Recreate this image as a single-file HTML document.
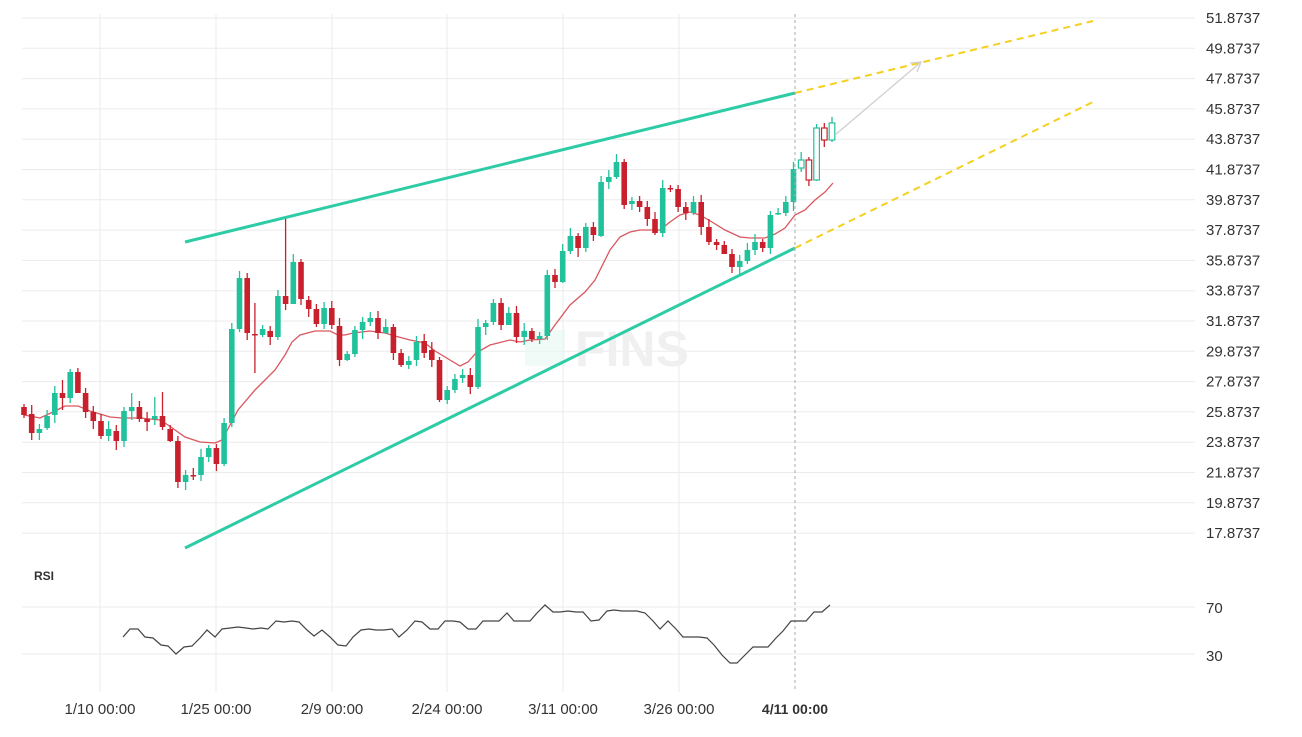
<!DOCTYPE html>
<html><head><meta charset="utf-8"><style>
html,body{margin:0;padding:0;background:#fff;}
svg{display:block;font-family:"Liberation Sans","DejaVu Sans",sans-serif;}
</style></head><body>
<svg id="s" width="1302" height="737" viewBox="0 0 1302 737" xmlns="http://www.w3.org/2000/svg">
<g id="grid" stroke="#ebebeb" stroke-width="1"></g>
<text x="575" y="366" font-size="50" font-weight="bold" fill="#f0f0f0">FINS</text>
<rect x="525" y="330" width="40" height="36" fill="#e6f6f1" opacity="0.6"/>
<g id="ma"></g>
<g id="candles"></g>
<line x1="185" y1="242" x2="795" y2="93" stroke="#2dcba6" stroke-width="3"/>
<line x1="185" y1="548" x2="795" y2="248" stroke="#2dcba6" stroke-width="3"/>
<line x1="795" y1="93" x2="1093" y2="21" stroke="#f5d020" stroke-width="2" stroke-dasharray="7,5"/>
<line x1="795" y1="248" x2="1095" y2="101" stroke="#f5d020" stroke-width="2" stroke-dasharray="7,5"/>
<line x1="835" y1="135" x2="921" y2="62" stroke="#cfcfcf" stroke-width="1.3"/>
<polyline points="910,63 921,62 917,72" fill="none" stroke="#cfcfcf" stroke-width="1.3"/>
<line x1="795" y1="14" x2="795" y2="692" stroke="#aaa" stroke-width="1" stroke-dasharray="3,3"/>
<text x="34" y="580" font-size="12" font-weight="bold" fill="#333">RSI</text>
<polyline id="rsi" fill="none" stroke="#444" stroke-width="1.2"/>
<g id="lbl" font-size="15" fill="#333"></g>
</svg>
<script>
(function(){
var ns="http://www.w3.org/2000/svg";
function el(p,t,a){var e=document.createElementNS(ns,t);for(var k in a)e.setAttribute(k,a[k]);p.appendChild(e);return e;}
var g=document.getElementById('grid'),L=document.getElementById('lbl'),t;
for(var i=0;i<18;i++){var yy=18+i*30.3;el(g,'line',{x1:22,x2:1195,y1:yy,y2:yy});
t=el(L,'text',{x:1206,y:yy+5});t.textContent=(51.8737-2*i).toFixed(4);}
el(g,'line',{x1:22,x2:1195,y1:607,y2:607});el(g,'line',{x1:22,x2:1195,y1:654,y2:654});
t=el(L,'text',{x:1206,y:613});t.textContent='70';t=el(L,'text',{x:1206,y:661});t.textContent='30';
var dx=[100,216,332,447,563,679],dl=['1/10 00:00','1/25 00:00','2/9 00:00','2/24 00:00','3/11 00:00','3/26 00:00'];
dx.forEach(function(x,i){el(g,'line',{x1:x,x2:x,y1:14,y2:692});var tt=el(L,'text',{x:x,y:714,'text-anchor':'middle'});tt.textContent=dl[i];});
t=el(L,'text',{x:795,y:714,'text-anchor':'middle','font-weight':'bold','font-size':'14'});t.textContent='4/11 00:00';
var c=[[407,415],[414,433],[433,429],[428,416],[415,393],[393,398],[398,372],[372,393],[393,412],[412,421],[421,436],[436,429],[431,441],[441,411],[411,407],[407,419],[419,422],[419,416],[416,427],[429,441],[441,482],[482,475],[475,476],[475,457],[457,448],[448,464],[464,423],[423,329],[329,278],[278,333],[334,335],[335,329],[331,337],[337,296],[296,304],[304,262],[262,299],[300,309],[309,324],[324,308],[308,325],[326,360],[360,354],[354,330],[330,322],[322,318],[318,333],[333,327],[327,353],[353,365],[365,361],[360,342],[341,353],[350,360],[360,400],[400,390],[390,379],[378,375],[375,387],[387,327],[327,323],[322,303],[303,325],[325,313],[313,337],[337,331],[331,339],[339,336],[336,275],[275,282],[282,251],[251,236],[236,248],[248,227],[227,235],[236,182],[182,177],[177,162],[162,205],[204,201],[201,207],[207,219],[219,233],[233,188],[188,189],[189,207],[207,213],[213,202],[202,227],[227,242],[242,245],[245,254],[254,267],[267,261],[261,250],[250,242],[242,248],[248,215],[214,213],[213,202],[202,169],[168,160],[160,180],[180,128],[128,140],[140,123]];
var wk=[[30,405,440],[61,380,410],[115,425,450],[130,393,420],[153,397,425],[161,392,430],[284,218,310],[253,303,373],[299,242,320],[614,137,180],[668,170,200],[176,436,488],[184,470,490],[246,273,340]];
var C=document.getElementById('candles');
var n=c.length;
for(var i=0;i<n;i++){var cx=24+i*(808/(n-1));cx=Math.round(cx*10)/10;var o=c[i][0],cl=c[i][1];
var up=cl<o;var col=up?'#21c19c':'#c8202c';var bt=Math.min(o,cl),bb=Math.max(o,cl);
var hi=bt-3-((i*7)%6),lo=bb+3+((i*3)%7)-((i*5)%4);
for(var j=0;j<wk.length;j++){if(Math.abs(wk[j][0]-cx)<2){hi=wk[j][1];lo=wk[j][2];}}
el(C,'line',{x1:cx,x2:cx,y1:hi,y2:lo,stroke:col,'stroke-width':1.3});
var hollow=i>=n-5;
el(C,'rect',{x:cx-2.8,y:bt,width:5.6,height:Math.max(bb-bt,1.5),fill:hollow?'#fff':col,stroke:hollow?col:'none','stroke-width':1.2});}
var ma="24,415 40,418 53,412 65,406 78,406 90,411 110,417 122,418 140,418 160,420 168,425 185,437 200,442 215,443 222,440 230,425 238,410 255,390 262,383 275,370 285,355 292,342 300,335 315,331 330,331 338,335 345,335 353,333 370,331 385,333 395,336 410,340 425,343 435,351 450,360 460,366 468,362 476,353 490,345 510,340 520,342 530,340 545,339 555,325 570,305 585,292 595,280 610,250 620,237 630,232 640,230 660,230 670,222 680,215 690,212 700,215 712,222 725,230 740,237 750,238 765,238 775,234 785,228 795,215 805,210 815,200 825,192 833,183";
el(document.getElementById('ma'),'polyline',{points:ma,fill:'none',stroke:'#d9575e','stroke-width':1.3});
document.getElementById('rsi').setAttribute('points',"123,637 130,629 138,629 145,637 153,638 161,645 168,646 176,654 184,647 192,646 200,638 207,630 215,637 222,629 230,628 238,627 246,628 253,629 261,628 268,629 276,621 284,622 292,621 299,622 307,630 314,636 322,630 330,637 338,645 346,646 353,637 361,630 369,629 376,630 384,630 392,629 399,637 407,630 415,621 422,622 430,629 438,629 445,621 453,621 460,622 468,629 476,629 483,621 491,621 499,621 507,613 514,621 522,621 530,621 537,613 545,605 553,612 560,612 568,611 576,612 583,612 591,621 599,620 607,611 614,610 622,611 637,611 645,613 653,621 660,629 668,621 676,629 683,637 699,637 707,638 714,645 722,655 730,663 737,663 745,655 753,647 768,647 776,638 783,631 791,621 806,621 814,612 822,612 830,605");
})();
</script>
</body></html>
